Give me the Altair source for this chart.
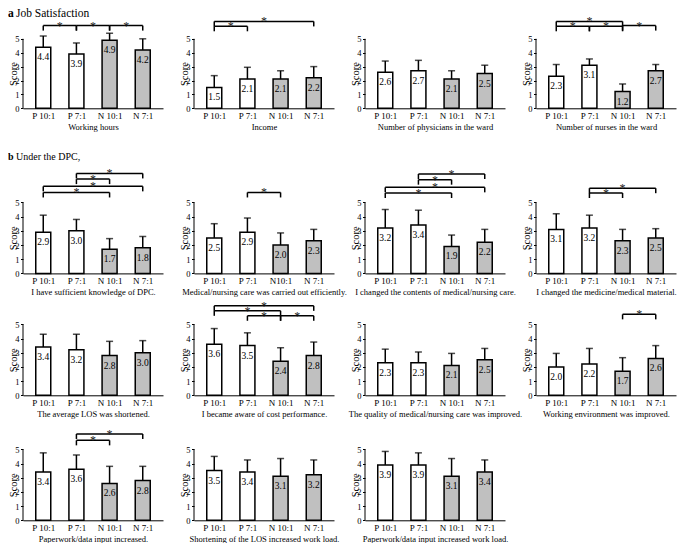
import json
import altair as alt
import pandas as pd

# ---------------- data ----------------
groups = ["P 10:1", "P 7:1", "N 10:1", "N 7:1"]
groups_efficiency = ["P 10:1", "P 7:1", "N10:1", "N 7:1"]
kinds = ["P", "P", "N", "N"]

titles = [
    "Working hours",
    "Income",
    "Number of physicians in the ward",
    "Number of nurses in the ward",
    "I have sufficient knowledge of DPC.",
    "Medical/nursing care was carried out efficiently.",
    "I changed the contents of medical/nursing care.",
    "I changed the medicine/medical material.",
    "The average LOS was shortened.",
    "I became aware of cost performance.",
    "The quality of medical/nursing care was improved.",
    "Working environment was improved.",
    "Paperwork/data input increased.",
    "Shortening of the LOS increased work load.",
    "Paperwork/data input increased work load.",
]

means = [
    [4.4, 3.9, 4.9, 4.2],
    [1.5, 2.1, 2.1, 2.2],
    [2.6, 2.7, 2.1, 2.5],
    [2.3, 3.1, 1.2, 2.7],
    [2.9, 3.0, 1.7, 1.8],
    [2.5, 2.9, 2.0, 2.3],
    [3.2, 3.4, 1.9, 2.2],
    [3.1, 3.2, 2.3, 2.5],
    [3.4, 3.2, 2.8, 3.0],
    [3.6, 3.5, 2.4, 2.8],
    [2.3, 2.3, 2.1, 2.5],
    [2.0, 2.2, 1.7, 2.6],
    [3.4, 3.6, 2.6, 2.8],
    [3.5, 3.4, 3.1, 3.2],
    [3.9, 3.9, 3.1, 3.4],
]

sds = [
    [0.8, 0.8, 0.5, 0.8],
    [0.85, 0.85, 0.6, 0.8],
    [0.8, 0.75, 0.6, 0.6],
    [0.85, 0.45, 0.55, 0.45],
    [1.2, 0.8, 0.75, 0.8],
    [1.0, 1.0, 0.85, 0.8],
    [1.3, 1.05, 0.8, 0.9],
    [1.1, 0.9, 0.8, 0.65],
    [0.9, 1.1, 1.0, 0.85],
    [1.1, 0.9, 0.95, 0.95],
    [0.95, 0.75, 0.85, 0.8],
    [0.95, 1.1, 0.95, 0.9],
    [1.35, 1.0, 1.2, 1.0],
    [1.0, 0.85, 1.25, 1.05],
    [0.95, 0.85, 1.25, 0.85],
]

# significance brackets: (from index, to index, height in score units)
brackets = [
    [(0, 1, 5.95), (1, 2, 5.95), (2, 3, 5.95)],
    [(0, 3, 6.25), (0, 1, 5.9)],
    [],
    [(0, 2, 6.25), (0, 1, 5.9), (1, 2, 5.9), (2, 3, 5.95)],
    [(1, 3, 7.04), (1, 2, 6.64), (0, 3, 6.13), (0, 2, 5.70)],
    [(1, 2, 5.7)],
    [(1, 3, 7.0), (1, 2, 6.6), (0, 3, 6.06), (0, 2, 5.66)],
    [(1, 3, 6.0), (1, 2, 5.66)],
    [],
    [(0, 3, 6.3), (0, 2, 5.95), (1, 2, 5.6), (2, 3, 5.6)],
    [],
    [(2, 3, 5.7)],
    [(1, 3, 6.08), (1, 2, 5.63)],
    [],
    [],
]
star_symbol = "*"

panel_row = [0, 0, 0, 0, 1, 1, 1, 1, 2, 2, 2, 2, 3, 3, 3]

heading_a = ("a", "Job Satisfaction")
heading_b = ("b", "Under the DPC,")

score_ticks = [0, 1, 2, 3, 4, 5]

# ---------------- layout / style ----------------
FONT = "Liberation Serif"
PLOT_W = 140
ROW_H = [100.3, 144.4, 101.3, 104.3]
ROW_PPU = [13.9, 14.2, 14.2, 14.2]
X_DOMAIN = [-0.46, 3.46]
LEG_PX = 5
N_FILL = "#c0c0c0"
LW = 1.5


def make_panel(k):
    r = panel_row[k]
    H = ROW_H[r]
    ppu = ROW_PPU[r]
    ymax = H / ppu
    labels = groups_efficiency if k == 5 else groups

    df = pd.DataFrame({
        "idx": list(range(4)),
        "kind": kinds,
        "mean": means[k],
        "sd": sds[k],
    })
    df["top"] = df["mean"] + df["sd"]

    xs = alt.Scale(domain=X_DOMAIN, nice=False, zero=False)
    ys = alt.Scale(domain=[0, ymax], nice=False)

    x_axis = alt.Axis(
        values=[0, 1, 2, 3],
        labelExpr=json.dumps(labels) + "[datum.value]",
        title=titles[k],
        ticks=False,
        grid=False,
        domainColor="black",
        domainWidth=1,
        labelFont=FONT,
        labelFontSize=9,
        labelColor="black",
        labelPadding=3,
        titleFont=FONT,
        titleFontSize=8.5,
        titleFontWeight="normal",
        titleColor="black",
        titlePadding=2,
    )
    y_axis = alt.Axis(
        values=score_ticks,
        title="Score",
        titleX=-10,
        titleY=H - 2.5 * ppu,
        titleBaseline="middle",
        titleFont=FONT,
        titleFontSize=10.5,
        titleFontWeight="normal",
        titleColor="black",
        domain=False,
        grid=False,
        tickSize=2.5,
        tickColor="black",
        labelFont=FONT,
        labelFontSize=8.5,
        labelColor="black",
        labelPadding=1.5,
    )

    def X(field):
        return alt.X(field, scale=xs, axis=x_axis, title=titles[k])

    def Y(field):
        return alt.Y(field, scale=ys, axis=y_axis, title="Score")

    base = alt.Chart(df)

    bars = base.mark_bar(size=15, stroke="black", strokeWidth=LW).encode(
        x=X("idx:Q"),
        y=Y("mean:Q"),
        fill=alt.Fill("kind:N", scale=alt.Scale(domain=["P", "N"], range=["white", N_FILL]), legend=None),
    )
    err = base.mark_rule(color="black", strokeWidth=LW).encode(
        x=X("idx:Q"), y=Y("mean:Q"), y2="top:Q"
    )
    cap = base.mark_tick(orient="horizontal", size=7, thickness=LW, color="black").encode(
        x=X("idx:Q"), y=Y("top:Q")
    )
    vals = base.mark_text(dy=10, baseline="middle", font=FONT, fontSize=9.5, fill="black").encode(
        x=X("idx:Q"), y=Y("mean:Q"), text=alt.Text("mean:Q", format=".1f")
    )
    axdf = pd.DataFrame({"y0": [score_ticks[0]], "y1": [score_ticks[-1]]})
    yaxis_line = alt.Chart(axdf).mark_rule(color="black", strokeWidth=1).encode(
        x=alt.value(0), y=Y("y0:Q"), y2="y1:Q"
    )

    layers = [bars, err, cap, vals, yaxis_line]

    if brackets[k]:
        leg_u = LEG_PX / ppu
        bdf = pd.DataFrame(brackets[k], columns=["x1", "x2", "level"])
        bdf["mid"] = (bdf["x1"] + bdf["x2"]) / 2
        bdf["star"] = star_symbol
        legs = pd.DataFrame({
            "x": list(bdf["x1"]) + list(bdf["x2"]),
            "level": list(bdf["level"]) * 2,
        })
        legs["bot"] = legs["level"] - leg_u
        hl = alt.Chart(bdf).mark_rule(color="black", strokeWidth=LW).encode(
            x=X("x1:Q"), x2="x2:Q", y=Y("level:Q")
        )
        lg = alt.Chart(legs).mark_rule(color="black", strokeWidth=LW).encode(
            x=X("x:Q"), y=Y("level:Q"), y2="bot:Q"
        )
        st = alt.Chart(bdf).mark_text(font=FONT, fontSize=12, baseline="middle", dy=0,
                                      fill="#222222").encode(
            x=X("mid:Q"), y=Y("level:Q"), text="star:N"
        )
        layers += [hl, lg, st]

    heading = None
    if k == 0:
        heading = (heading_a, 0, 11.5)
    elif k == 4:
        heading = (heading_b, 23, 10)
    if heading is not None:
        (letter, text), ytop, fs = heading
        hd = pd.DataFrame({"letter": [letter], "text": [text]})
        l1 = alt.Chart(hd).mark_text(align="left", baseline="top", font=FONT, fontSize=fs,
                                     fontWeight="bold", fill="black").encode(
            text="letter:N", x=alt.value(-15), y=alt.value(ytop))
        l2 = alt.Chart(hd).mark_text(align="left", baseline="top", font=FONT, fontSize=fs,
                                     fill="black").encode(
            text="text:N", x=alt.value(-7), y=alt.value(ytop))
        layers += [l1, l2]

    return alt.layer(*layers).properties(width=PLOT_W, height=H)


panels = [make_panel(k) for k in range(len(titles))]

chart = alt.concat(
    *panels,
    columns=4,
    spacing={"row": 20, "column": 31},
    bounds="flush",
    align="each",
).properties(padding=0).configure_view(stroke=None)

chart.save("out.html", embed_options={"renderer": "svg", "actions": False})
